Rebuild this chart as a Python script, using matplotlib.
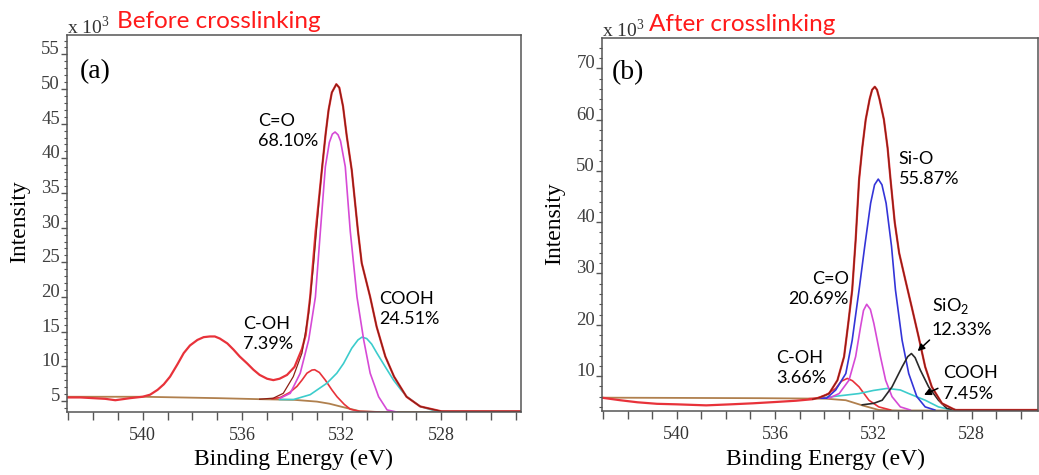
import matplotlib
matplotlib.use("Agg")
from matplotlib import pyplot as plt
from matplotlib.ticker import MultipleLocator

plt.rcParams['font.family'] = ['Liberation Serif', 'DejaVu Serif']
SANS = ['Lato', 'DejaVu Sans']

# ---------------- (a) before crosslinking ----------------
a_raw_x = [543.0, 542.5, 542.0, 541.5, 541.1, 540.5, 540.0, 539.7, 539.4, 539.15, 538.9, 538.6,
           538.35, 538.1, 537.8, 537.55, 537.3, 537.1, 536.9, 536.6, 536.35, 536.1, 535.8,
           535.55, 535.3, 535.0, 534.75, 534.5, 534.2, 533.9, 533.6, 533.45, 533.27, 533.05,
           532.8, 532.65, 532.53, 532.4, 532.22, 532.1, 531.95, 531.8, 531.6, 531.35, 531.2,
           530.86, 530.6, 530.25, 529.9, 529.4, 528.85, 528.0, 524.8]
a_raw_y = [5.5, 5.5, 5.4, 5.3, 5.1, 5.4, 5.6, 5.9, 6.6, 7.4, 8.5, 10.3,
           11.9, 13.0, 13.8, 14.2, 14.3, 14.3, 14.0, 13.3, 12.4, 11.4, 10.4,
           9.5, 8.75, 8.2, 8.0, 8.2, 8.75, 9.9, 12.5, 14.5, 20.0, 29.5,
           38.3, 43.5, 47.0, 49.5, 50.7, 50.2, 47.5, 43.2, 38.3, 29.5, 24.9,
           20.0, 15.7, 11.4, 8.5, 5.6, 4.2, 3.5, 3.5]

a_fit_x = [535.3, 534.75, 534.35, 533.95, 533.6, 533.33, 533.13, 532.9, 532.8, 532.65, 532.53,
           532.4, 532.22, 532.1, 531.95, 531.8, 531.6, 531.35, 531.2, 530.86, 530.6, 530.25,
           529.9, 529.4, 528.85, 528.0, 524.8]
a_fit_y = [5.25, 5.4, 6.1, 8.5, 11.9, 17.7, 24.9, 34.5, 38.5, 43.5, 47.0,
           49.5, 50.7, 50.2, 47.5, 43.2, 38.3, 29.5, 24.9, 20.0, 15.7, 11.4,
           8.5, 5.6, 4.2, 3.5, 3.5]

a_base_x = [543.0, 540.0, 537.0, 535.3, 533.9, 533.0, 532.5, 532.06, 531.6, 531.26, 530.5, 524.8]
a_base_y = [5.6, 5.6, 5.4, 5.25, 5.15, 4.9, 4.6, 4.2, 3.8, 3.5, 3.4, 3.4]

a_coh_x = [534.8, 534.47, 534.1, 533.8, 533.6, 533.4, 533.2, 533.09, 532.9, 532.66, 532.4,
           532.19, 531.9, 531.66, 531.3, 530.5]
a_coh_y = [5.3, 5.5, 6.2, 7.1, 8.0, 9.0, 9.45, 9.5, 9.1, 8.0, 6.6,
           5.6, 4.5, 3.8, 3.5, 3.4]

a_cooh_x = [534.5, 533.94, 533.27, 532.6, 532.2, 531.93, 531.6, 531.35, 531.19, 531.0, 530.8,
            530.59, 530.25, 529.92, 529.6, 529.38, 528.85, 528.2, 527.5]
a_cooh_y = [5.2, 5.2, 5.9, 7.55, 9.0, 10.4, 12.6, 13.8, 14.2, 14.0, 13.2,
            11.9, 9.9, 8.0, 6.5, 5.6, 4.2, 3.5, 3.4]

a_co_x = [534.47, 534.07, 533.67, 533.33, 533.06, 532.86, 532.66, 532.5, 532.38, 532.27, 532.15,
          532.05, 531.86, 531.66, 531.39, 531.12, 530.86, 530.52, 530.18, 529.8]
a_co_y = [5.4, 6.1, 9.0, 13.8, 20.0, 29.5, 38.8, 42.3, 43.5, 43.8, 43.4,
          42.5, 38.8, 29.5, 20.0, 13.8, 9.0, 5.6, 3.7, 3.4]

a_yticks = [5, 10, 15, 20, 25, 30, 35, 40, 45, 50, 55]

# ---------------- (b) after crosslinking ----------------
b_raw_x = [543.0, 542.3, 541.6, 540.8, 540.0, 538.8, 537.8, 536.9, 536.0, 535.15, 534.47, 534.2,
           533.8, 533.46, 533.19, 533.02, 532.86, 532.72, 532.58, 532.45, 532.31, 532.15,
           532.05, 531.94, 531.85, 531.75, 531.57, 531.42, 531.3, 531.13, 530.95, 530.7,
           530.43, 530.16, 529.89, 529.62, 529.21, 528.67, 525.3]
b_raw_y = [5.76, 5.3, 4.9, 4.6, 4.5, 4.3, 4.5, 4.7, 4.95, 5.2, 5.5, 5.8,
           6.6, 9.2, 13.8, 20.3, 26.8, 36.5, 48.3, 54.5, 60.0, 64.0,
           65.8, 66.4, 65.8, 64.0, 60.0, 54.5, 48.3, 40.0, 34.0, 28.8,
           23.3, 17.7, 11.8, 7.9, 4.7, 3.4, 3.4]

b_base_x = [543.0, 536.63, 533.93, 533.12, 532.45, 531.78, 531.0, 525.3]
b_base_y = [5.8, 5.7, 5.6, 5.3, 4.3, 3.4, 3.3, 3.3]

b_coh_x = [534.6, 534.3, 533.93, 533.53, 533.3, 533.06, 532.85, 532.58, 532.18, 531.78, 531.3]
b_coh_y = [5.6, 5.7, 6.3, 7.6, 9.0, 9.55, 9.1, 7.9, 5.3, 4.0, 3.4]

b_co_x = [534.2, 533.8, 533.39, 532.99, 532.72, 532.52, 532.4, 532.27, 532.12, 531.98, 531.71,
          531.5, 531.24, 530.9, 530.5]
b_co_y = [5.7, 5.7, 6.6, 9.2, 13.8, 19.6, 22.8, 24.0, 23.0, 20.3, 13.8,
          9.2, 6.0, 4.0, 3.4]

b_sio_x = [534.2, 533.9, 533.53, 533.12, 532.86, 532.58, 532.35, 532.11, 531.95, 531.8, 531.65,
           531.48, 531.26, 531.1, 530.83, 530.56, 530.23, 529.89, 529.5]
b_sio_y = [5.7, 5.7, 7.3, 10.5, 17.0, 26.8, 35.3, 43.7, 47.3, 48.4, 47.3,
           43.7, 35.3, 26.8, 17.0, 10.5, 6.0, 4.0, 3.4]

b_sio2_x = [532.45, 531.98, 531.64, 531.24, 530.83, 530.6, 530.45, 530.3, 530.09, 529.75,
            529.35, 529.01, 528.6]
b_sio2_y = [4.4, 4.7, 5.3, 7.9, 11.8, 13.8, 14.4, 13.6, 11.2, 7.9,
            5.3, 3.7, 3.4]

b_cooh_x = [534.2, 533.66, 532.58, 532.0, 531.44, 530.9, 530.56, 529.89, 529.35, 528.9, 528.5]
b_cooh_y = [5.7, 6.0, 6.6, 7.2, 7.6, 7.3, 6.6, 5.3, 4.0, 3.5, 3.4]

b_yticks = [10, 20, 30, 40, 50, 60, 70]

x_ticks = [540, 536, 532, 528]

RED = '#e8323a'
DARK = '#8c1f14'
BROWN = '#b0804e'
MAGENTA = '#d64ad6'
CYAN = '#3ccccc'
BLUE = '#3434d8'
BLACK = '#2a2a2a'
SPINE = '#555555'

W, H = 1039, 475
fig = plt.figure(figsize=(W / 100, H / 100), dpi=100)
ax_a = fig.add_axes([67 / W, 1 - 412 / H, (521 - 67) / W, (412 - 35) / H])
ax_b = fig.add_axes([602 / W, 1 - 411 / H, (1038 - 602) / W, (411 - 38) / H])


def style(ax, xlim, ylim, yticks, yminor):
    ax.set_xlim(xlim)
    ax.set_ylim(ylim)
    ax.set_xticks(x_ticks)
    ax.set_xticklabels([str(t) for t in x_ticks], fontsize=13, color='#333333')
    ax.xaxis.set_minor_locator(MultipleLocator(1))
    ax.set_yticks(yticks)
    ax.set_yticklabels([str(t) for t in yticks], fontsize=13.5, color='#404040', va='baseline')
    ax.yaxis.set_minor_locator(MultipleLocator(yminor))
    ax.tick_params(axis='x', which='both', direction='out', length=6, width=1, color=SPINE, pad=5)
    ax.tick_params(axis='y', which='major', direction='out', length=4.5, width=1, color=SPINE, pad=0.5)
    ax.tick_params(axis='y', which='minor', direction='out', length=2.5, width=0.8, color=SPINE)
    for s in ax.spines.values():
        s.set_color(SPINE)
        s.set_linewidth(1.1)


# panel (a)
ax_a.plot(a_base_x, a_base_y, color=BROWN, lw=1.3)
ax_a.plot(a_coh_x, a_coh_y, color=RED, lw=1.2)
ax_a.plot(a_cooh_x, a_cooh_y, color=CYAN, lw=1.2)
ax_a.plot(a_co_x, a_co_y, color=MAGENTA, lw=1.2)
ax_a.plot(a_raw_x, a_raw_y, color=RED, lw=1.6)
ax_a.plot(a_fit_x, a_fit_y, color=DARK, lw=0.9)
style(ax_a, (543.04, 524.8), (3.4, 57.8), a_yticks, 1)

ax_a.text(535.35, 46.6, 'C=O\n68.10%', family=SANS, fontsize=13, va='top', ha='left', linespacing=1.35)
ax_a.text(535.95, 17.3, 'C-OH\n7.39%', family=SANS, fontsize=13, va='top', ha='left', linespacing=1.35)
ax_a.text(530.5, 20.9, 'COOH\n24.51%', family=SANS, fontsize=13, va='top', ha='left', linespacing=1.35)
ax_a.text(0.029, 0.935, '(a)', transform=ax_a.transAxes, fontsize=20, va='top', ha='left')

# panel (b)
ax_b.plot(b_base_x, b_base_y, color=BROWN, lw=1.3)
ax_b.plot(b_coh_x, b_coh_y, color=RED, lw=1.2)
ax_b.plot(b_cooh_x, b_cooh_y, color=CYAN, lw=1.2)
ax_b.plot(b_co_x, b_co_y, color=MAGENTA, lw=1.2)
ax_b.plot(b_sio_x, b_sio_y, color=BLUE, lw=1.2)
ax_b.plot(b_sio2_x, b_sio2_y, color=BLACK, lw=1.2)
ax_b.plot(b_raw_x, b_raw_y, color=RED, lw=1.6)
fit_pts = [(x, y) for x, y in zip(b_raw_x, b_raw_y) if x <= 534.5]
ax_b.plot([p[0] for p in fit_pts], [p[1] for p in fit_pts], color=DARK, lw=0.9)
style(ax_b, (543.04, 525.3), (3.2, 75.9), b_yticks, 2)

ax_b.text(530.97, 53.9, 'Si-O\n55.87%', family=SANS, fontsize=13, va='top', ha='left', linespacing=1.35)
ax_b.text(532.99, 30.5, 'C=O\n20.69%', family=SANS, fontsize=13, va='top', ha='right',
          multialignment='right', linespacing=1.35)
ax_b.text(529.63, 25.6, r'SiO$_\mathregular{2}$', family=SANS, fontsize=13, va='top', ha='left')
ax_b.text(529.63, 20.5, '12.33%', family=SANS, fontsize=13, va='top', ha='left')
ax_b.text(535.95, 15.1, 'C-OH\n3.66%', family=SANS, fontsize=13, va='top', ha='left', linespacing=1.35)
ax_b.text(529.18, 12.1, 'COOH\n7.45%', family=SANS, fontsize=13, va='top', ha='left', linespacing=1.35)
ax_b.annotate('', xy=(530.28, 14.5), xytext=(529.63, 17.4),
              arrowprops=dict(arrowstyle='-|>', color='black', lw=1.1, mutation_scale=10))
ax_b.annotate('', xy=(530.04, 6.1), xytext=(529.27, 7.85),
              arrowprops=dict(arrowstyle='-|>', color='black', lw=1.1, mutation_scale=10))
ax_b.text(0.023, 0.94, '(b)', transform=ax_b.transAxes, fontsize=20, va='top', ha='left')

# figure level texts
fig.text(67 / W, 1 - 34 / H, r'x 10$^\mathregular{3}$', fontsize=14, color='#333333', va='baseline')
fig.text(117 / W, 1 - 28 / H, 'Before crosslinking', family=SANS, fontsize=17.5, color='#ff1a1a', va='baseline')
fig.text(602 / W, 1 - 37 / H, r'x 10$^\mathregular{3}$', fontsize=14, color='#333333', va='baseline')
fig.text(649 / W, 1 - 31 / H, 'After crosslinking', family=SANS, fontsize=17.5, color='#ff1a1a', va='baseline')

fig.text(20 / W, 1 - 222 / H, 'Intensity', fontsize=17, rotation=90, ha='center', va='center')
fig.text(555 / W, 1 - 224 / H, 'Intensity', fontsize=17, rotation=90, ha='center', va='center')
fig.text(294 / W, 1 - 465 / H, 'Binding Energy (eV)', fontsize=17, ha='center', va='baseline')
fig.text(826 / W, 1 - 465 / H, 'Binding Energy (eV)', fontsize=17, ha='center', va='baseline')

fig.savefig('out.png', dpi=100)
